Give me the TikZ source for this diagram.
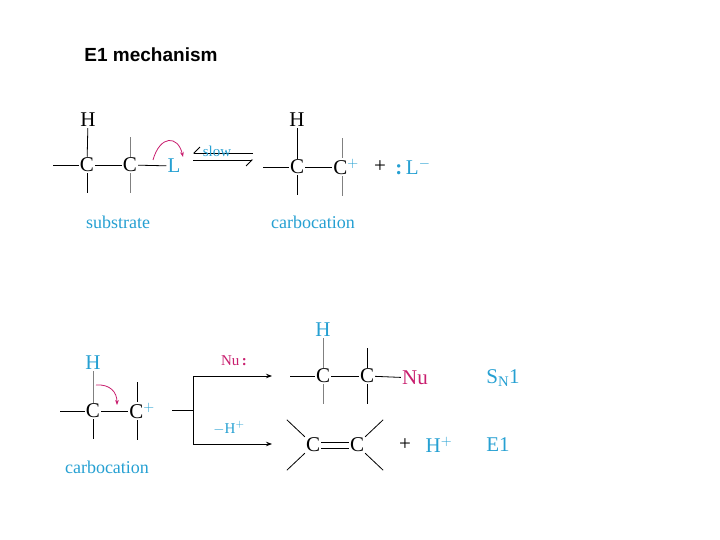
\documentclass[tikz,border=0pt]{standalone}
\usepackage{fontspec}
\setmainfont{Liberation Serif}
\newfontfamily\arialfont{Liberation Sans}
\usetikzlibrary{positioning,arrows.meta}
\definecolor{chemblue}{RGB}{38,160,210}
\definecolor{chemmag}{RGB}{200,30,110}

\begin{document}
\begin{tikzpicture}[x=1pt,y=-1pt,
  atom/.style={inner sep=1pt,font=\fontsize{21}{21}\selectfont},
  lbl/.style={inner sep=1pt,text=chemblue,font=\fontsize{18}{18}\selectfont},
  bond/.style={line width=0.8pt},
  gbond/.style={line width=0.6pt,gray},
  push/.style={chemmag,line width=0.8pt,-{Stealth[length=5pt]}}]
\useasboundingbox (0,0) rectangle (720,540);

\node[font=\arialfont\bfseries\fontsize{19}{19}\selectfont] (title) at (151,55) {E1 mechanism};

% substrate
\node[atom] (h1) at (88,120) {H};
\node[atom] (ca) at (87,165) {C};
\node[atom] (cb) at (130,165) {C};
\node[atom,text=chemblue] (lv) at (174,166) {L};
\draw[bond] (ca.west) -- ++(-26,0);
\draw[bond] (ca) -- (cb);
\draw[bond] (cb) -- (lv);
\draw[bond] (h1) -- (ca);
\draw[bond] (ca.south) -- ++(0,20);
\draw[gbond] (cb.north) -- ++(0,-20);
\draw[gbond] (cb.south) -- ++(0,20);
\draw[push] (153,160) .. controls (160,135) and (178,135) .. (183,157);
\node[lbl] (sub) at (118,222) {substrate};

% equilibrium
\coordinate (eqa) at (193,160);
\coordinate (eqb) at (253,160);
\draw[line width=0.8pt,-{Straight Barb[right,length=6pt]}] (eqa) -- (eqb);
\draw[line width=0.8pt,-{Straight Barb[right,length=6pt]}] ([yshift=7]eqb) -- ([yshift=7]eqa);
\node[lbl,font=\fontsize{15}{15}\selectfont] (slow) at (217,151) {slow};

% carbocation
\node[atom] (h2) at (297,120) {H};
\node[atom] (cc) at (297,167) {C};
\node[atom] (cd) at (346,167) {C$^{\textcolor{chemblue}{+}}$};
\draw[bond] (cc.west) -- ++(-26,0);
\draw[bond] (cc) -- (cd.west);
\draw[bond] (h2) -- (cc);
\draw[bond] (cc.south) -- ++(0,20);
\draw[gbond] ([xshift=-4]cd.north) -- ++(0,-20);
\draw[gbond] ([xshift=-4]cd.south) -- ++(0,20);
\node[atom] (pl1) at (380,167) {+};
\node[atom,text=chemblue] (lion) at (413,167) {\textbf{:}\,L$^-$};
\node[lbl] (cat1) at (313,222) {carbocation};

% second step
\node[atom,text=chemblue] (h3) at (93,363) {H};
\node[atom] (ce) at (93,411) {C};
\node[atom] (cf) at (142,411) {C$^{\textcolor{chemblue}{\mathbf{+}}}$};
\draw[bond] (ce.west) -- ++(-25,0);
\draw[bond] (ce) -- (cf.west);
\draw[gbond] (h3) -- (ce);
\draw[bond] (ce.south) -- ++(0,20);
\draw[bond] ([xshift=-5]cf.north) -- ++(0,-20);
\draw[bond] ([xshift=-5]cf.south) -- ++(0,20);
\draw[push] (96,385) .. controls (110,384) and (117,392) .. (117,405);
\node[lbl] (cat2) at (107,467) {carbocation};

% branch
\coordinate (br0) at (172,410);
\coordinate (brt) at (193,376);
\coordinate (brb) at (193,444);
\coordinate (pt) at (272,376);
\coordinate (pb) at (272,444);
\draw[bond] (br0) -- (193,410);
\draw[bond] (brt) -- (brb);
\draw[bond,-{Stealth[length=6pt]}] (brt) -- (pt);
\draw[bond,-{Stealth[length=6pt]}] (brb) -- (pb);
\node[lbl,text=chemmag,font=\fontsize{15}{15}\selectfont] (nu) at (234,361) {Nu\,\textbf{:}};
\node[lbl,font=\fontsize{15}{15}\selectfont] (mh) at (229,428) {$-$H$^+$};

% SN1 product
\node[atom,text=chemblue] (h4) at (323,330) {H};
\node[atom] (cg) at (323,376) {C};
\node[atom] (ch) at (367,376) {C};
\node[atom,text=chemmag] (nu2) at (415,378) {Nu};
\draw[bond] (cg.west) -- ++(-25,0);
\draw[bond] (cg) -- (ch);
\draw[bond] (ch) -- (nu2);
\draw[gbond] (h4) -- (cg);
\draw[gbond] (cg.south) -- ++(0,20);
\draw[bond] (ch.north) -- ++(0,-20);
\draw[bond] (ch.south) -- ++(0,20);
\node[atom,text=chemblue] (sn) at (503,378) {S$_{\mathrm{N}}$1};

% E1 product
\node[atom] (ci) at (313,445) {C};
\node[atom] (cj) at (357,445) {C};
\draw[bond] ([yshift=-3]ci.east) -- ([yshift=-3]cj.west);
\draw[bond] ([yshift=3]ci.east) -- ([yshift=3]cj.west);
\draw[bond] (ci.north west) -- ++(-18,-17);
\draw[bond] (ci.south west) -- ++(-18,17);
\draw[bond] (cj.north east) -- ++(18,-17);
\draw[bond] (cj.south east) -- ++(18,17);
\node[atom] (pl2) at (405,445) {+};
\node[atom,text=chemblue] (hp) at (439,445) {H$^{\mathbf{+}}$};
\node[atom,text=chemblue] (e1) at (498,445) {E1};
\end{tikzpicture}
\end{document}
